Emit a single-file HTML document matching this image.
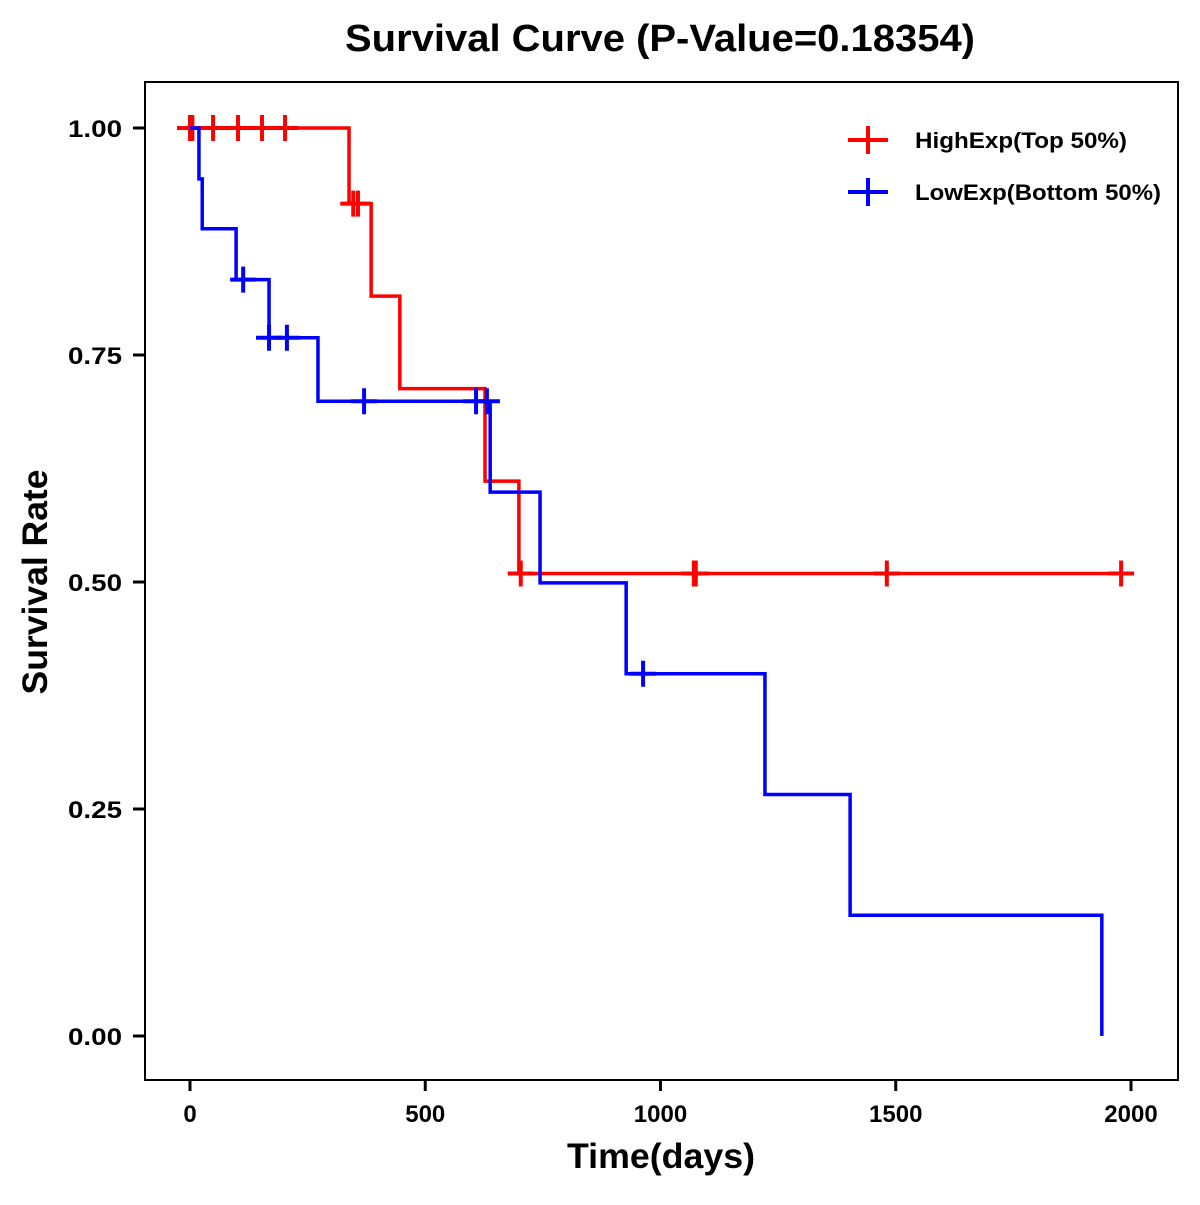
<!DOCTYPE html>
<html><head><meta charset="utf-8"><style>
body{margin:0;background:#fff;}
text{font-family:"Liberation Sans",Arial,sans-serif;font-weight:bold;fill:#000;}
</style></head><body>
<svg id="chart" width="1200" height="1200" xmlns="http://www.w3.org/2000/svg">
<rect width="1200" height="1200" fill="#fff"/>
<text x="660" y="51" font-size="38" text-anchor="middle" textLength="630" lengthAdjust="spacingAndGlyphs">Survival Curve (P-Value=0.18354)</text>
<rect x="145" y="82" width="1033" height="998" fill="none" stroke="#000" stroke-width="2"/>
<g id="axes"></g>
<g id="series"></g>
<text x="661" y="1168" font-size="35" text-anchor="middle" textLength="188" lengthAdjust="spacingAndGlyphs">Time(days)</text>
<text transform="translate(47,582) rotate(-90)" font-size="35" text-anchor="middle" textLength="225" lengthAdjust="spacingAndGlyphs">Survival Rate</text>
<g>
<line x1="848" y1="140" x2="888" y2="140" stroke="#f00" stroke-width="4"/><line x1="868" y1="126" x2="868" y2="154" stroke="#f00" stroke-width="4"/>
<text x="915" y="148" font-size="22" textLength="212" lengthAdjust="spacingAndGlyphs">HighExp(Top 50%)</text>
<line x1="848" y1="192" x2="888" y2="192" stroke="#00f" stroke-width="4"/><line x1="868" y1="178" x2="868" y2="206" stroke="#00f" stroke-width="4"/>
<text x="915" y="200" font-size="22" textLength="246" lengthAdjust="spacingAndGlyphs">LowExp(Bottom 50%)</text>
</g>
</svg>
<script>
const xTicks=[0,500,1000,1500,2000];
const yTicks=[0,0.25,0.5,0.75,1];
const yTickLabels=["0.00","0.25","0.50","0.75","1.00"];
const highTimes=[338,385,446,627,699];
const highSurv=[0.9167,0.8148,0.7130,0.6111,0.5093];
const highCensor=[0,5,49,102,153,202,347,357,703,1071,1075,1481,1979];
const lowTimes=[19,26,98,168,272,638,744,927,1222,1403,1938];
const lowSurv=[0.944,0.889,0.833,0.769,0.699,0.599,0.499,0.399,0.266,0.133,0];
const lowCensor=[113,168,206,370,608,631,963];
const highEnd=1979, lowEnd=1938;
const NS="http://www.w3.org/2000/svg";
const xs=t=>190+t*(1131-190)/2000;
const ys=v=>1036-v*(1036-128);
function mk(tag,attrs,parent){const e=document.createElementNS(NS,tag);for(const k in attrs)e.setAttribute(k,attrs[k]);parent.appendChild(e);return e;}
const ax=document.getElementById('axes');
xTicks.forEach(t=>{
 const l=mk('line',{x1:xs(t),x2:xs(t),y1:1080,y2:1091,stroke:'#000','stroke-width':3},ax);
 
 
 const tx=mk('text',{x:xs(t),y:1122,'font-size':24,'text-anchor':'middle'},ax);tx.textContent=t;
 
 
});
yTicks.forEach((v,i)=>{
 const l=mk('line',{x1:133,x2:145,y1:ys(v),y2:ys(v),stroke:'#000','stroke-width':3},ax);
 
 
 const tx=mk('text',{x:122,y:ys(v)+9,'font-size':24,'text-anchor':'end',textLength:54,lengthAdjust:'spacingAndGlyphs'},ax);tx.textContent=yTickLabels[i];
 
 
});
const sg=document.getElementById('series');
function survAt(times,surv,t){let s=1;for(let i=0;i<times.length;i++){if(times[i]<=t)s=surv[i];}return s;}
function draw(times,surv,cens,end,color,name){
 let d='M'+xs(0)+','+ys(1);
 times.forEach((t,i)=>{d+=' H'+xs(t)+' V'+ys(surv[i]);});
 if(times[times.length-1]<end)d+=' H'+xs(end);
 const p=mk('path',{d:d,fill:'none',stroke:color,'stroke-width':3.5},sg);
 
 
 cens.forEach(t=>{
  const v=survAt(times,surv,t);
  const g=mk('path',{d:`M${xs(t)-13},${ys(v)} h26 M${xs(t)},${ys(v)-13} v26`,stroke:color,'stroke-width':4,fill:'none'},sg);
  
  
 });
}
draw(highTimes,highSurv,highCensor,highEnd,'#f00','high-exp');
draw(lowTimes,lowSurv,lowCensor,lowEnd,'#00f','low-exp');
</script>
</body></html>
